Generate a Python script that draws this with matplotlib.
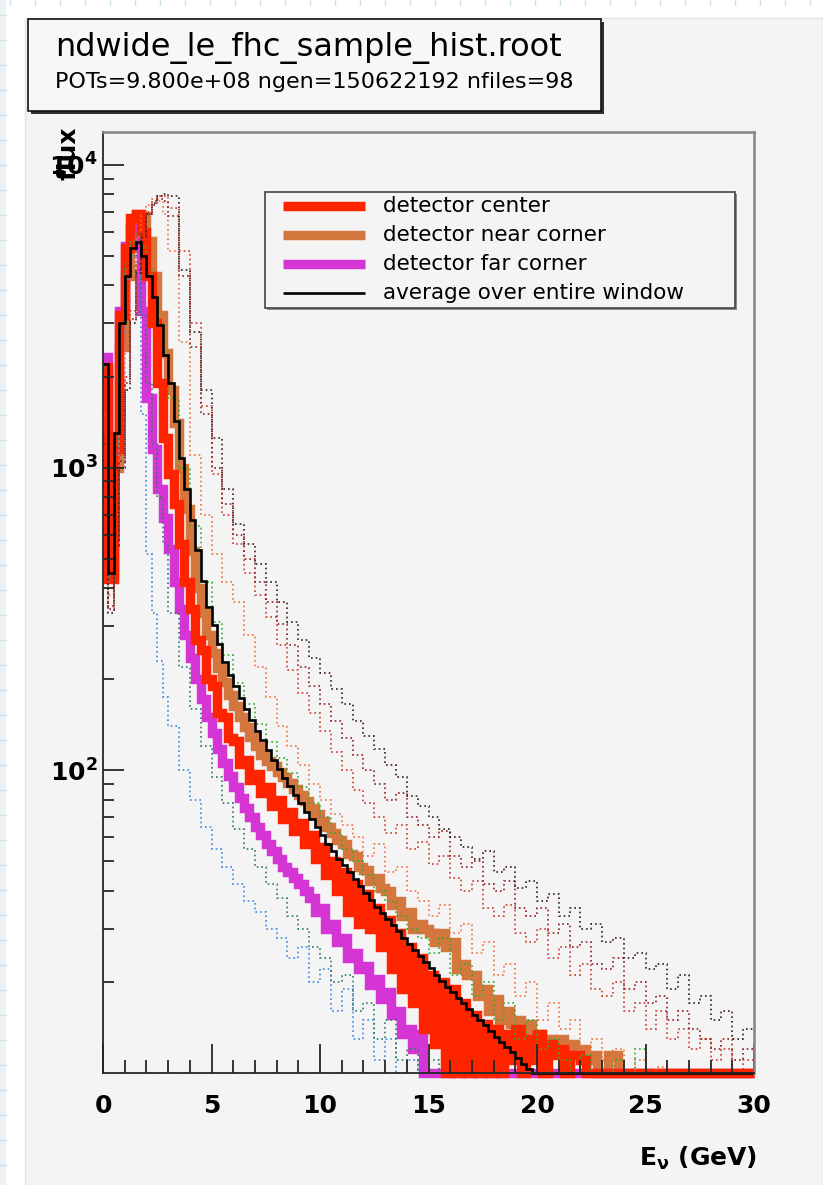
import numpy as np
import matplotlib
matplotlib.use("Agg")
import matplotlib.pyplot as plt
from matplotlib.patches import Rectangle
from matplotlib.lines import Line2D
from matplotlib.ticker import FixedLocator, FixedFormatter

plt.rcParams['font.family'] = ['DejaVu Sans']
plt.rcParams['mathtext.fontset'] = 'dejavusans'

# binning: detector histograms and the average use 0.25 GeV bins,
# the other window positions use 0.25 GeV below 3 GeV and 0.5 GeV above
fine_edges = np.arange(0, 30.001, 0.25)
edges = np.concatenate([np.arange(0, 3, 0.25), np.arange(3, 30.001, 0.5)])

# thick histograms (flux per bin), one row = 3 GeV
center = [2150, 430, 1150, 3200, 5300, 6700, 6900, 6000, 4300, 3000, 1900, 1250,
          950, 760, 560, 420, 340, 270, 250, 200, 190, 155, 150, 128,
          125, 105, 108, 93, 97, 84, 88, 76, 80, 69, 73, 63,
          67, 57, 61, 51, 56, 45, 50, 40, 46, 34, 42, 31,
          39, 30, 35, 26, 32, 22, 29, 19, 26, 17, 24, 14,
          21, 12.5, 20, 0, 19, 0, 17, 0, 15.5, 0, 14.5, 0,
          14, 0, 13.5, 11, 14, 0, 13, 11, 13.5, 0, 12.5, 11.5,
          12, 0, 11.5, 11.5, 11, 0, 0, 0, 0, 0, 0, 0,
          0, 0, 0, 0, 0, 0, 0, 0, 0, 0, 0, 0,
          0, 0, 0, 0, 0, 0, 0, 0, 0, 0, 0, 0]
near_corner = [2100, 440, 1000, 2500, 4300, 6200, 6900, 6800, 5600, 4300, 3200, 2400,
               1800, 1400, 1000, 730, 530, 400, 330, 280, 245, 218, 196, 178,
               163, 150, 139, 129, 120, 112, 107, 103, 99, 95, 91, 87,
               83, 79, 75, 72, 68, 65, 62, 59, 57, 53, 52, 48,
               47, 43, 44, 41, 40, 36, 37, 33, 34, 30, 31, 30,
               29, 27, 29, 26, 27, 22, 23, 21, 21, 18, 19, 16,
               17.5, 15, 16, 14.5, 15, 13.5, 14.5, 13, 13.5, 12.5, 13, 12,
               13, 11.5, 12.5, 11.5, 12, 11, 11.5, 0, 0, 11.5, 11.5, 0,
               0, 0, 0, 0, 0, 0, 0, 0, 0, 0, 0, 0,
               0, 0, 0, 0, 0, 0, 0, 0, 0, 0, 0, 0]
far_corner = [2320, 460, 1200, 3300, 5400, 6200, 5400, 3300, 1700, 1150, 850, 680,
              540, 420, 340, 280, 235, 200, 172, 150, 133, 118, 106, 96,
              88, 81, 75, 70, 65, 61, 57, 54, 51, 48, 46, 44,
              42, 40, 38, 34, 35, 30, 31, 27, 28, 24, 25, 22,
              22.5, 19.5, 20.5, 17.5, 18.5, 15.5, 16, 13.5, 14, 12, 13.5, 0,
              0, 0, 0, 0, 0, 0, 0, 0, 0, 0, 0, 0,
              0, 0, 0, 0, 0, 0, 0, 0, 0, 0, 0, 0,
              0, 0, 0, 0, 0, 0, 0, 0, 0, 0, 0, 0,
              0, 0, 0, 0, 0, 0, 0, 0, 0, 0, 0, 0,
              0, 0, 0, 0, 0, 0, 0, 0, 0, 0, 0, 0]

# average over the whole window
average = [2200, 450, 1300, 3000, 4300, 5300, 5550, 5000, 4300, 3650, 2950, 2350,
           1905, 1430, 1077, 851, 674, 534, 422, 346, 301, 261, 228, 206,
           190, 174, 160, 147, 135, 126, 117, 108, 101, 94, 89, 83,
           78, 73, 69, 65, 61, 57, 54, 51, 48.6, 46.1, 43.7, 41.4,
           39.3, 37.2, 35.4, 33.8, 32.2, 30.8, 29.4, 28.0, 26.7, 25.5, 24.3, 23.2,
           22.2, 21.1, 20.2, 19.3, 18.5, 17.7, 17.0, 16.3, 15.6, 15.0, 14.4, 13.8,
           13.2, 12.7, 12.2, 11.7, 11.2, 10.7, 10.3, 9.9, 0, 0, 0, 0,
           0, 0, 0, 0, 0, 0, 0, 0, 0, 0, 0, 0,
           0, 0, 0, 0, 0, 0, 0, 0, 0, 0, 0, 0,
           0, 0, 0, 0, 0, 0, 0, 0, 0, 0, 0, 0]

# other window positions (dotted)
pos_blue = [2000, 420, 1100, 2800, 4200, 5000, 4300, 1500, 520, 330, 230, 175,
            140, 100, 80, 65, 55, 48, 42, 37, 34, 30,
            28, 24, 26, 20, 22, 16, 19, 13, 15, 11,
            13, 0, 11, 0, 0, 0, 0, 0, 0, 0,
            0, 0, 0, 0, 0, 0, 0, 0, 0, 0,
            0, 0, 0, 0, 0, 0, 0, 0, 0, 0, 0, 0, 0, 0]
pos_teal = [2100, 430, 1150, 3000, 4700, 5500, 5000, 3200, 1900, 1200, 800, 560,
            330, 220, 160, 120, 95, 78, 64, 55, 48, 42,
            38, 33, 30, 26, 24, 20, 21, 16, 17, 13,
            15, 11, 12, 0, 11, 0, 0, 0, 0, 0,
            0, 0, 0, 0, 0, 0, 0, 0, 0, 0,
            0, 0, 0, 0, 0, 0, 0, 0, 0, 0, 0, 0, 0, 0]
pos_green = [2150, 440, 1200, 3000, 4500, 5600, 5900, 5400, 4500, 3700, 3000, 2450,
             1700, 1000, 640, 420, 310, 240, 195, 165, 142, 124,
             110, 98, 88, 78, 70, 62, 55, 50, 45, 40,
             37, 33, 30, 28, 25, 28, 21, 23, 18, 20,
             15, 17, 13, 15, 12, 13, 11, 0, 11.5, 0,
             0, 11, 0, 12, 0, 0, 0, 0, 0, 0, 0, 0, 0, 0]
pos_salmon = [1500, 380, 700, 1400, 2600, 4300, 5800, 6800, 7400, 7700, 7600, 6900,
              5200, 2600, 1100, 700, 520, 420, 360, 280, 220, 175,
              140, 120, 104, 90, 80, 72, 66, 60, 52, 57,
              46, 48, 40, 37, 33, 36, 29, 31, 25, 27,
              21, 23, 18, 20, 15, 17, 14, 15, 12, 13,
              11, 12, 0, 11, 0, 10.5, 0, 0, 0, 0, 0, 0, 0, 0]
pos_brick = [1300, 350, 600, 1100, 2000, 3300, 4700, 6000, 7000, 7600, 7900, 7900,
             7200, 5200, 3000, 1600, 950, 700, 560, 450, 380, 320,
             260, 215, 180, 155, 135, 115, 100, 86, 78, 70,
             62, 66, 55, 58, 49, 52, 44, 40, 43, 35,
             33, 36, 29, 27, 30, 24, 26, 21, 23, 19,
             18, 20, 16, 17, 14, 16, 13, 14, 12, 13, 11, 12, 0, 11]
pos_maroon = [1250, 340, 580, 1050, 1900, 3100, 4500, 5900, 6900, 7400, 7700, 7600,
              6800, 4300, 2500, 1500, 1000, 760, 600, 500, 420, 360,
              305, 260, 220, 190, 165, 145, 128, 112, 100, 90,
              80, 84, 70, 66, 60, 63, 52, 48, 50, 42,
              40, 43, 35, 33, 35, 29, 31, 26, 27, 23,
              22, 24, 19, 20, 17, 18, 15, 16, 14, 13, 12, 13, 11, 12]
pos_dark = [1200, 330, 550, 1000, 1800, 3000, 4400, 5800, 6900, 7500, 7900, 8000,
            7900, 4500, 2800, 1800, 1250, 850, 650, 560, 480, 420,
            360, 310, 270, 235, 210, 185, 165, 145, 130, 118,
            104, 95, 82, 76, 70, 64, 60, 56, 51, 54,
            46, 48, 41, 43, 37, 39, 33, 35, 30, 31,
            27, 28, 24, 25, 22, 23, 19, 21, 17, 18, 15, 16, 13, 14]

legend_labels = ['detector center', 'detector near corner',
                 'detector far corner', 'average over entire window']
x_major = [0, 5, 10, 15, 20, 25, 30]
y_major = [100, 1000, 10000]
y_major_labels = [r'$\mathbf{10^{2}}$', r'$\mathbf{10^{3}}$', r'$\mathbf{10^{4}}$']

YMIN, YMAX = 10, 12850
BG = '#f4f4f4'

W, H = 823, 1185
fig = plt.figure(figsize=(W / 100, H / 100), dpi=100)
fig.patch.set_facecolor('white')


def fx(x):
    return x / W


def fy(y):
    return 1 - y / H


# graph paper strip around the canvas
for gx in range(10, W, 25):
    fig.add_artist(Line2D([fx(gx), fx(gx)], [fy(0), fy(5)], transform=fig.transFigure,
                          color='#cfe2ec', lw=1, zorder=-3))
fig.add_artist(Rectangle((0, 0), fx(6), 1, transform=fig.transFigure,
                         facecolor='#eef1f3', edgecolor='none', zorder=-3))
for gy in range(15, H, 25):
    fig.add_artist(Line2D([0, fx(6)], [fy(gy), fy(gy)], transform=fig.transFigure,
                          color='#cfe2ec', lw=1, zorder=-3))
fig.add_artist(Rectangle((fx(25), 0), 1 - fx(25), fy(18), transform=fig.transFigure,
                         facecolor=BG, edgecolor='#e2e2e2', lw=1, zorder=-2))

ax = fig.add_axes([fx(103), fy(1073), (754 - 103) / W, (1073 - 132) / H])
ax.set_facecolor(BG)
ax.set_yscale('log')
ax.set_xlim(0, 30)
ax.set_ylim(YMIN, YMAX)


def floor(v):
    # empty bins are drawn along the bottom of the frame
    return np.clip(np.asarray(v, dtype=float), YMIN, None)


thick = [(near_corner, '#d4773f'), (far_corner, '#d535d5'), (center, '#ff2400')]
for vals, col in thick:
    ax.stairs(floor(vals), fine_edges, baseline=None, color=col, lw=6.8, clip_on=False)

dotted = [(pos_blue, '#3d86e6'), (pos_teal, '#2e7a68'), (pos_green, '#2fae2f'),
          (pos_salmon, '#f0703f'), (pos_brick, '#cc3a2a'), (pos_maroon, '#8e2222'),
          (pos_dark, '#3a1c1c')]
for vals, col in dotted:
    ax.stairs(floor(vals), edges, baseline=None, color=col, lw=1.2,
              linestyle=(0, (1, 1.8)), clip_on=False)

ax.stairs(floor(average), fine_edges, baseline=None, color='black', lw=1.9, clip_on=False)

# axes frame and ticks
for side in ('left', 'bottom'):
    ax.spines[side].set_color('#262626')
    ax.spines[side].set_linewidth(1.3)
for side in ('top', 'right'):
    ax.spines[side].set_color('#858585')
    ax.spines[side].set_linewidth(1.8)

ax.xaxis.set_major_locator(FixedLocator(x_major))
ax.xaxis.set_minor_locator(FixedLocator(np.arange(0, 31, 1)))
ax.yaxis.set_major_locator(FixedLocator(y_major))
ax.yaxis.set_major_formatter(FixedFormatter(y_major_labels))
ax.yaxis.set_minor_locator(FixedLocator([m * d for d in (10, 100, 1000) for m in range(2, 10)]))
ax.yaxis.set_minor_formatter(FixedFormatter([]))

ax.tick_params(axis='both', which='both', direction='in', color='#262626')
ax.tick_params(axis='x', which='major', length=21, width=1.3, pad=15, labelsize=18)
ax.tick_params(axis='x', which='minor', length=9.5, width=1.3)
ax.tick_params(axis='y', which='major', length=15, width=1.3, pad=4, labelsize=18)
ax.tick_params(axis='y', which='minor', length=8, width=1.3)
for lab in ax.get_xticklabels():
    lab.set_fontweight('bold')

fig.text(fx(68), fy(126), 'flux', rotation=90, ha='center', va='top',
         fontsize=18, fontweight='bold')
fig.text(fx(757), fy(1166), r'E$_{\mathbf{\nu}}$ (GeV)', ha='right', va='baseline',
         fontsize=18, fontweight='bold')

# title pave with shadow
fig.add_artist(Rectangle((fx(31), fy(114)), (601 - 28) / W, (111 - 19) / H,
                         transform=fig.transFigure, facecolor='#303030',
                         edgecolor='none', zorder=2))
fig.add_artist(Rectangle((fx(28), fy(111)), (601 - 28) / W, (111 - 19) / H,
                         transform=fig.transFigure, facecolor='#f7f7f7',
                         edgecolor='#111111', lw=1.2, zorder=3))
fig.text(fx(55), fy(56), 'ndwide_le_fhc_sample_hist.root', fontsize=23,
         va='baseline', zorder=4)
fig.text(fx(55), fy(88), 'POTs=9.800e+08 ngen=150622192 nfiles=98', fontsize=16,
         va='baseline', zorder=4)

# legend pave
fig.add_artist(Rectangle((fx(267), fy(310)), (735 - 265) / W, (308 - 192) / H,
                         transform=fig.transFigure, facecolor='#8a8a8a',
                         edgecolor='none', zorder=2))
fig.add_artist(Rectangle((fx(265), fy(308)), (735 - 265) / W, (308 - 192) / H,
                         transform=fig.transFigure, facecolor=BG,
                         edgecolor='#444444', lw=1.2, zorder=3))
legend_styles = [('#ff2400', 6.8), ('#d4773f', 6.8), ('#d535d5', 6.8), ('black', 1.9)]
row_y = [206, 235, 264, 293]
for (col, lw), label, ry in zip(legend_styles, legend_labels, row_y):
    fig.add_artist(Line2D([fx(283), fx(365)], [fy(ry), fy(ry)], transform=fig.transFigure,
                          color=col, lw=lw, solid_capstyle='butt', zorder=4))
    fig.text(fx(383), fy(ry), label, fontsize=15.5, va='center', zorder=4)

fig.savefig('out.png', dpi=100, facecolor=fig.get_facecolor())
